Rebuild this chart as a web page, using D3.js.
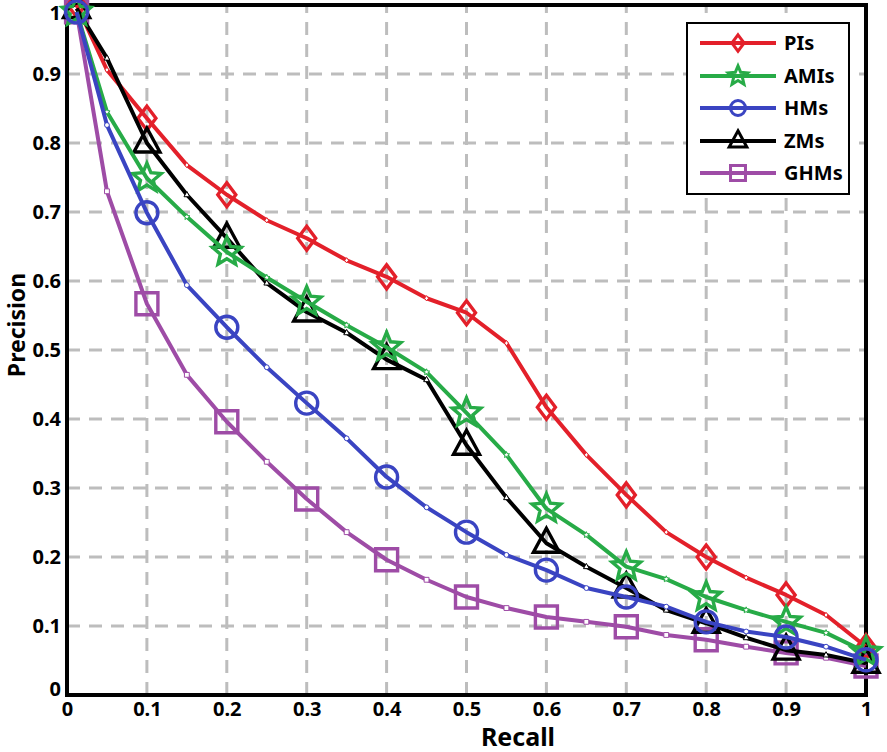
<!DOCTYPE html>
<html>
<head>
<meta charset="utf-8">
<script src="https://cdn.jsdelivr.net/npm/d3@7"></script>
<style>
  body { margin: 0; background: #fff; }
  text { font-family: "Noto Sans", "DejaVu Sans", sans-serif; font-weight: bold; }
</style>
</head>
<body>
<svg id="chart"></svg>
<script>
// recall points (big markers on every 0.1, small ones in between)
let recall = [0.012, 0.05, 0.1, 0.15, 0.2, 0.25, 0.3, 0.35, 0.4, 0.45, 0.5,
              0.55, 0.6, 0.65, 0.7, 0.75, 0.8, 0.85, 0.9, 0.95, 1.0];

let xTicks = [0, 0.1, 0.2, 0.3, 0.4, 0.5, 0.6, 0.7, 0.8, 0.9, 1];
let xTickLabels = ['0', '0.1', '0.2', '0.3', '0.4', '0.5', '0.6', '0.7', '0.8', '0.9', '1'];
let yTicks = [0, 0.1, 0.2, 0.3, 0.4, 0.5, 0.6, 0.7, 0.8, 0.9, 1];
let yTickLabels = ['0', '0.1', '0.2', '0.3', '0.4', '0.5', '0.6', '0.7', '0.8', '0.9', '1'];

let seriesNames = ['PIs', 'AMIs', 'HMs', 'ZMs', 'GHMs'];

let piValues   = [1.0, 0.906, 0.836, 0.768, 0.725, 0.688, 0.662, 0.630, 0.606, 0.575, 0.554,
                  0.510, 0.417, 0.348, 0.290, 0.236, 0.200, 0.170, 0.145, 0.116, 0.070];
let amiValues  = [0.99, 0.845, 0.749, 0.693, 0.642, 0.605, 0.570, 0.536, 0.504, 0.468, 0.409,
                  0.348, 0.270, 0.232, 0.186, 0.168, 0.142, 0.123, 0.106, 0.090, 0.062];
let hmValues   = [0.99, 0.826, 0.699, 0.594, 0.533, 0.475, 0.423, 0.372, 0.316, 0.272, 0.236,
                  0.203, 0.181, 0.155, 0.142, 0.128, 0.106, 0.092, 0.084, 0.070, 0.051];
let zmValues   = [0.995, 0.923, 0.800, 0.725, 0.662, 0.597, 0.555, 0.525, 0.486, 0.457, 0.362,
                  0.286, 0.220, 0.186, 0.155, 0.123, 0.104, 0.083, 0.065, 0.058, 0.046];
let ghmValues  = [0.99, 0.730, 0.567, 0.464, 0.396, 0.338, 0.284, 0.236, 0.196, 0.167, 0.142,
                  0.126, 0.113, 0.106, 0.099, 0.087, 0.080, 0.070, 0.061, 0.054, 0.042];

let colors = {PIs: '#e3202a', AMIs: '#27ab47', HMs: '#3a44c2', ZMs: '#000000', GHMs: '#9e4ca6'};
let shapes = {PIs: 'diamond', AMIs: 'star', HMs: 'circle', ZMs: 'triangle', GHMs: 'square'};

function markerPath(type, s) {
    if (type === 'diamond') {
        let w = 9 * s, h = 12 * s;
        return `M0,${-h}L${w},0L0,${h}L${-w},0Z`;
    }
    if (type === 'circle') {
        let r = 11 * s;
        return `M${r},0A${r},${r} 0 1,1 ${-r},0A${r},${r} 0 1,1 ${r},0Z`;
    }
    if (type === 'triangle') {
        return `M0,${-15 * s}L${13 * s},${9 * s}L${-13 * s},${9 * s}Z`;
    }
    if (type === 'square') {
        let a = 11 * s;
        return `M${-a},${-a}L${a},${-a}L${a},${a}L${-a},${a}Z`;
    }
    // star
    let R = 15 * s, r = R * 0.45, p = '';
    for (let i = 0; i < 10; i++) {
        let ang = -Math.PI / 2 + i * Math.PI / 5;
        let rad = i % 2 === 0 ? R : r;
        p += (i === 0 ? 'M' : 'L') + (rad * Math.cos(ang)).toFixed(2) + ',' + (rad * Math.sin(ang)).toFixed(2);
    }
    return p + 'Z';
}

function makeChart() {
    let w = 887;
    let h = 752;

    let svg = d3.select('#chart')
        .attr('width', w)
        .attr('height', h);

    let xScale = d3.scaleLinear().domain([0, 1]).range([67, 866]);
    let yScale = d3.scaleLinear().domain([0, 1]).range([695, 5]);

    // dashed grid
    svg.append('g')
        .selectAll('line')
        .data(xTicks.slice(1))
        .join('line')
        .attr('x1', d => xScale(d)).attr('x2', d => xScale(d))
        .attr('y1', yScale(0)).attr('y2', yScale(1))
        .attr('stroke', '#bdbdbd').attr('stroke-width', 3)
        .attr('stroke-dasharray', '13,9');
    svg.append('g')
        .selectAll('line')
        .data(yTicks.slice(1, -1))
        .join('line')
        .attr('x1', xScale(0)).attr('x2', xScale(1))
        .attr('y1', d => yScale(d)).attr('y2', d => yScale(d))
        .attr('stroke', '#bdbdbd').attr('stroke-width', 3)
        .attr('stroke-dasharray', '13,9');

    // axes labels
    let xAxis = d3.axisBottom(xScale)
        .tickValues(xTicks)
        .tickFormat((d, i) => xTickLabels[i])
        .tickSize(0)
        .tickPadding(7);
    let xg = svg.append('g')
        .attr('transform', `translate(0, ${yScale(0)})`)
        .call(xAxis);
    xg.select('.domain').remove();
    xg.selectAll('text').style('font-size', '20px').attr('fill', '#000');

    let yAxis = d3.axisLeft(yScale)
        .tickValues(yTicks)
        .tickFormat((d, i) => yTickLabels[i])
        .tickSize(0)
        .tickPadding(6);
    let yg = svg.append('g')
        .attr('transform', `translate(${xScale(0)}, 0)`)
        .call(yAxis);
    yg.select('.domain').remove();
    yg.selectAll('text').style('font-size', '20px').attr('fill', '#000');
    // end labels sit a little inside the frame
    yg.selectAll('.tick text').attr('y', d => d === 1 ? 8 : (d === 0 ? -6 : 0));

    // frame
    svg.append('rect')
        .attr('x', xScale(0)).attr('y', yScale(1))
        .attr('width', xScale(1) - xScale(0)).attr('height', yScale(0) - yScale(1))
        .attr('fill', 'none').attr('stroke', '#000').attr('stroke-width', 4);

    svg.append('text')
        .attr('x', 518).attr('y', 746)
        .attr('text-anchor', 'middle')
        .style('font-size', '25px')
        .text('Recall');
    svg.append('text')
        .attr('transform', 'translate(25, 325) rotate(-90)')
        .attr('text-anchor', 'middle')
        .style('font-size', '23px')
        .text('Precision');

    let valuesByName = {PIs: piValues, AMIs: amiValues, HMs: hmValues, ZMs: zmValues, GHMs: ghmValues};
    let drawOrder = ['GHMs', 'PIs', 'ZMs', 'AMIs', 'HMs'];

    let line = d3.line()
        .x(d => xScale(d.r))
        .y(d => yScale(d.p));

    drawOrder.forEach(name => {
        let data = recall.map((r, i) => ({r: r, p: valuesByName[name][i], big: i % 2 === 0}));
        let g = svg.append('g');
        g.append('path')
            .datum(data)
            .attr('fill', 'none')
            .attr('stroke', colors[name])
            .attr('stroke-width', 4)
            .attr('stroke-linejoin', 'round')
            .attr('d', line);
        g.selectAll('path.small')
            .data(data.filter(d => !d.big))
            .join('path')
            .attr('class', 'small')
            .attr('transform', d => `translate(${xScale(d.r)},${yScale(d.p)})`)
            .attr('d', markerPath(shapes[name], 0.22))
            .attr('fill', '#fff')
            .attr('stroke', colors[name])
            .attr('stroke-width', 1);
        g.selectAll('path.big')
            .data(data.filter(d => d.big))
            .join('path')
            .attr('class', 'big')
            .attr('transform', d => `translate(${xScale(d.r)},${yScale(d.p)})`)
            .attr('d', markerPath(shapes[name], 1))
            .attr('fill', 'none')
            .attr('stroke', colors[name])
            .attr('stroke-width', 3.4)
            .attr('stroke-linejoin', 'miter');
    });

    // legend
    let legend = svg.append('g');
    legend.append('rect')
        .attr('x', 687).attr('y', 23)
        .attr('width', 162).attr('height', 171)
        .attr('fill', '#fff').attr('stroke', '#000').attr('stroke-width', 2);
    let rowY = [43, 76, 108, 141, 173];
    seriesNames.forEach((name, i) => {
        let row = legend.append('g').attr('transform', `translate(0, ${rowY[i]})`);
        row.append('line')
            .attr('x1', 700).attr('x2', 776)
            .attr('stroke', colors[name]).attr('stroke-width', 4);
        row.append('path')
            .attr('transform', 'translate(738, 0)')
            .attr('d', markerPath(shapes[name], 0.68))
            .attr('fill', 'none')
            .attr('stroke', colors[name]).attr('stroke-width', 3);
        row.append('text')
            .attr('x', 784).attr('y', 7)
            .style('font-size', '20px')
            .text(name);
    });
}

window.onload = function() {
    makeChart();
};
</script>
</body>
</html>
